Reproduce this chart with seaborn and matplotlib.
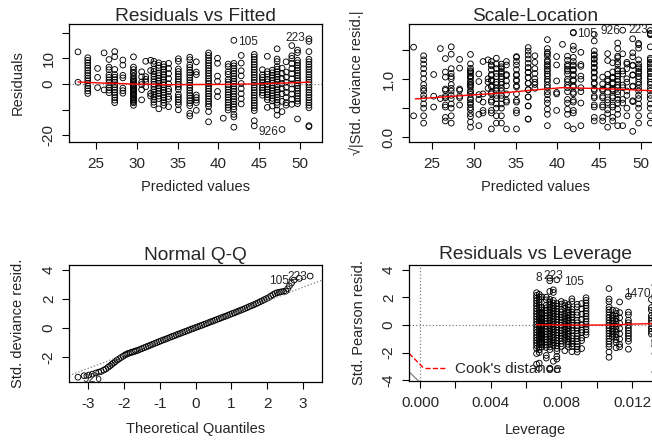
import numpy as np
import pandas as pd
import matplotlib
matplotlib.use("Agg")
import matplotlib.pyplot as plt
from matplotlib.lines import Line2D
import seaborn as sns

sns.set_theme(style="white")
plt.rcParams["font.family"] = ["Liberation Sans", "DejaVu Sans"]

# --- data -------------------------------------------------------------------
# fitted value of each vertical stripe of points, and the leverage of that cell
fitted = [22.8, 24.0, 25.2, 26.0, 26.6, 27.3, 28.3, 29.6, 30.6, 31.1, 31.7, 32.1,
          32.7, 33.3, 33.9, 35.1, 36.5, 37.3, 38.8, 39.9, 40.6, 41.2, 41.9, 42.8,
          44.4, 45.4, 46.0, 46.6, 47.2, 47.8, 48.3, 49.0, 49.7, 51.1]
leverage = [0.0136, 0.0094, 0.0135, 0.0136, 0.0131, 0.0134, 0.0135, 0.0069, 0.0134,
            0.0135, 0.0136, 0.0080, 0.0082, 0.0084, 0.00915, 0.0086, 0.00715, 0.0134,
            0.0066, 0.0135, 0.0136, 0.0089, 0.00775, 0.0133, 0.00675, 0.0109, 0.0118,
            0.0111, 0.0107, 0.0133, 0.0113, 0.0133, 0.00755, 0.00735]

# residuals in each stripe
r01 = [12.6, 0.7]
r02 = [10.3, 9.3, 8.3, 7.3, 6.3, 5.3, 4.3, 3.3, 2.3, 1.3, 0.3, -0.7, -1.7, -2.7, -3.7]
r03 = [6.1, 2.6, -1.4]
r04 = [12.2, -2.3]
r05 = [9.6, 6.6, 5.6, 3.6, 2.6, 1.6, 0.6, -0.4, -1.4, -2.4, -3.4]
r06 = [12.7, 10.7, 5.7, 3.7, 2.7, 1.7, 0.7, -0.3, -1.3, -2.3, -3.3, -4.3, -5.3, -6.3,
       -7.3]
r07 = [9.4, 7.4, 3.4, 2.4, -1.6, -2.6, -3.6]
r08 = [10.65, 6.65, 5.65, 4.65, 4.15, 3.15, 2.15, 1.65, 1.15, 0.65, 0.15, -0.35, -0.85,
       -1.35, -1.85, -2.35, -2.85, -3.35, -3.85, -4.35, -4.85, -5.35, -5.85, -6.35,
       -6.85, -7.35, -8.35]
r09 = [4.8, 2.8, 0.8, -0.2, -2.2, -6.2]
r10 = [8.9, 2.9, 1.9, 0.9, -1.1]
r11 = [9.3, 5.3, -3.7, -4.7]
r12 = [8.9, 7.9, 5.9, 4.9, 3.9, 2.9, 1.9, 0.9, -0.1, -1.1, -2.1, -3.1, -4.1, -5.1, -6.1,
       -7.1, -8.1]
r13 = [8.3, 7.3, 6.3, 4.3, 3.3, 2.3, 1.3, 0.3, -0.7, -1.7, -2.7, -3.7, -4.7, -5.7, -9.7]
r14 = [7.7, 6.7, 5.7, 4.7, 3.7, 2.7, 1.7, 0.7, -0.3, -1.3, -2.3, -3.3, -4.3, -5.3, -6.3,
       -7.3, -8.3]
r15 = [8.1, 6.1, 4.1, 2.1, 0.1, -1.9, -2.9, -4.9, -5.9, -8.9]
r16 = [9.9, 8.9, 5.9, 4.9, 3.9, 2.9, 1.9, 0.9, -0.1, -1.1, -2.1, -4.1, -5.1, -6.1, -7.1,
       -8.1, -10.1]
r17 = [10.5, 9.5, 7.5, 6.5, 5.5, 4.5, 3.5, 2.5, 1.5, 0.5, -0.5, -1.5, -2.5, -3.5, -4.5,
       -5.5, -6.5, -7.5, -8.5, -11.5, -12.5]
r18 = [8.7, 4.7, 3.7, -4.3, -5.3, -6.3, -7.3, -10.3]
r19 = [12.2, 11.2, 10.2, 9.2, 8.2, 7.2, 6.2, 5.2, 4.2, 3.2, 2.2, 1.2, 0.2, -0.8, -1.8,
       -2.8, -3.8, -4.8, -5.8, -6.8, -7.8, -8.8, -10.8, -14.8]
r20 = [10.1, 8.1, 3.1, 1.1, -2.9, -4.9]
r21 = [-13.4]
r22 = [7.8, 6.8, 4.8, 3.8, 1.8, 0.8, -0.2, -1.2, -2.2, -3.2, -4.2, -5.2, -6.2, -7.2,
       -8.2, -9.2, -10.2]
r23 = [17.1, 8.1, 7.1, 6.1, 5.1, 4.1, 3.1, 2.1, 1.1, 0.1, -0.9, -1.9, -2.9, -3.9, -4.9,
       -5.9, -6.9, -7.9, -8.9, -9.9, -11.9, -12.9, -16.9]
r24 = [11.2, 8.2, 5.2, 3.2, 0.2, -1.8, -3.8, -5.8, -7.8]
r25 = [11.6, 10.6, 9.6, 8.6, 7.6, 6.6, 5.6, 4.6, 3.6, 2.6, 1.6, 0.6, -0.4, -1.4, -2.4,
       -3.4, -4.4, -5.4, -6.4, -7.4, -8.4, -9.4, -10.4, -14.4, -16.4]
r26 = [5.6, 3.6, 2.6, 1.6, 0.6, -0.4, -1.4, -2.4, -3.4, -4.4]
r27 = [10.85, 4.85, 3.85, 1.85, 0.85, -0.15, -1.15, -2.15, -3.15, -4.15, -5.15, -6.15,
       -9.15]
r28 = [5.4, 4.4, 3.4, 2.4, 1.4, 0.4, -0.6, -1.6, -2.6, -3.6, -4.6, -5.6, -6.6, -8.6]
r29 = [13.8, 9.8, 8.8, 6.8, 5.8, 4.8, 3.8, 2.8, 1.8, 0.8, -0.2, -1.2, -2.2, -3.2, -4.2,
       -5.2, -6.2, -7.2, -8.2, -10.2, -12.2]
r30 = [6.2, 4.2, 2.2, 0.2, -1.8, -3.8, -6.8, -10.8, -17.8]
r31 = [8.7, 4.7, 2.7, 0.7, -1.3, -3.3, -5.3, -7.3, -8.3]
r32 = [15.05, 11.05, 10.05, 8.05, 6.05, 4.05, 2.05, 0.05, -1.95, -3.95, -5.95, -7.95]
r33 = [13.3, 12.3, 9.3, 8.3, 7.3, 6.3, 5.3, 4.3, 3.3, 2.3, 1.3, 0.3, -0.7, -1.7, -2.7,
       -3.7, -4.7, -5.7, -6.7, -7.7, -13.7]
r34 = [17.7, 16.7, 12.7, 9.7, 8.7, 7.7, 6.7, 5.7, 4.7, 3.7, 2.7, 1.7, 0.7, -0.3, -1.3,
       -2.3, -3.3, -4.3, -5.3, -6.3, -7.3, -8.3, -9.3, -16.3, -16.7]

sigma = 5.2  # residual scale used by the standardised panels

# lowess smooths (red lines)
smooth1_x = [22.8, 25.7, 29.8, 33.9, 37.1, 41.1, 45.2, 49.3, 51.2]
smooth1_y = [0.8, 0.4, 0.0, -0.25, -0.2, -0.15, 0.1, 0.5, 0.75]
smooth2_x = [23.0, 26.0, 30.0, 34.0, 36.8, 40.6, 44.6, 48.6, 51.4, 52.7]
smooth2_y = [0.66, 0.69, 0.73, 0.77, 0.81, 0.855, 0.84, 0.82, 0.80, 0.79]
smooth4_x = [0.0066, 0.0080, 0.0095, 0.0107, 0.0113, 0.0118, 0.0125, 0.0131, 0.0137]
smooth4_y = [0.02, 0.0, -0.01, 0.0, 0.02, 0.06, 0.08, 0.10, 0.12]

# normal Q-Q points
qq_theoretical = [
    -3.28, -3.11, -2.98, -2.88, -2.78, -2.70, -2.63, -2.56, -2.50, -2.44, -2.39, -2.34,
    -2.29, -2.24, -2.19, -2.14, -2.08, -2.02, -1.97, -1.92, -1.87, -1.82, -1.77, -1.72,
    -1.67, -1.62, -1.56, -1.50, -1.44, -1.38, -1.32, -1.26, -1.20, -1.14, -1.08, -1.02,
    -0.96, -0.90, -0.84, -0.78, -0.72, -0.66, -0.60, -0.54, -0.48, -0.42, -0.36, -0.30,
    -0.24, -0.18, -0.12, -0.06, 0.00, 0.06, 0.12, 0.18, 0.24, 0.30, 0.36, 0.42, 0.48,
    0.54, 0.60, 0.66, 0.72, 0.78, 0.84, 0.90, 0.96, 1.02, 1.08, 1.14, 1.20, 1.26, 1.32,
    1.38, 1.44, 1.50, 1.56, 1.62, 1.68, 1.74, 1.80, 1.86, 1.92, 1.98, 2.04, 2.10, 2.16,
    2.22, 2.28, 2.34, 2.40, 2.46, 2.52, 2.57, 2.62, 2.68, 2.75, 2.90, 3.20]
qq_sample = [
    -3.37, -3.27, -3.22, -3.16, -3.08, -3.02, -2.97, -2.88, -2.80, -2.69, -2.60, -2.50,
    -2.40, -2.30, -2.20, -2.12, -2.02, -1.93, -1.85, -1.78, -1.73, -1.69, -1.65, -1.61,
    -1.57, -1.53, -1.47, -1.41, -1.35, -1.29, -1.23, -1.17, -1.11, -1.05, -0.99, -0.93,
    -0.87, -0.81, -0.76, -0.70, -0.64, -0.58, -0.53, -0.47, -0.41, -0.36, -0.30, -0.24,
    -0.19, -0.13, -0.07, -0.02, 0.04, 0.09, 0.15, 0.20, 0.26, 0.31, 0.37, 0.43, 0.48,
    0.54, 0.60, 0.65, 0.71, 0.77, 0.82, 0.88, 0.94, 1.00, 1.05, 1.11, 1.17, 1.23, 1.29,
    1.35, 1.41, 1.48, 1.54, 1.60, 1.67, 1.74, 1.81, 1.88, 1.96, 2.03, 2.10, 2.20, 2.30,
    2.38, 2.44, 2.47, 2.50, 2.52, 2.55, 2.70, 2.90, 3.10, 3.30, 3.42, 3.58]
qq_line_intercept = 0.02
qq_line_slope = 0.93

# Cook's distance contour pieces visible at the left of the leverage panel
cooks_x = [-0.00062, 0.00021]
cooks_y = [-2.06, -3.13]
contour_x = [-0.00062, -0.00004]
contour_y = [-3.40, -4.12]

# --- build the point table ----------------------------------------------------
cols = [r01, r02, r03, r04, r05, r06, r07, r08, r09, r10, r11, r12, r13, r14, r15, r16,
        r17, r18, r19, r20, r21, r22, r23, r24, r25, r26, r27, r28, r29, r30, r31, r32,
        r33, r34]
rows = []
for f, h, col in zip(fitted, leverage, cols):
    for r in col:
        rows.append((f, h, r))
df = pd.DataFrame(rows, columns=["fitted", "leverage", "resid"])
df["sqrt_std"] = np.sqrt(df["resid"].abs() / sigma)
df["std_pearson"] = df["resid"] / sigma
qq = pd.DataFrame({"theo": qq_theoretical, "sample": qq_sample})

# --- figure ---------------------------------------------------------------------
W, H = 652, 440
fig = plt.figure(figsize=(W / 100, H / 100), dpi=100)
ax1 = fig.add_axes([69 / W, 1 - 142 / H, 253 / W, 118 / H])
ax2 = fig.add_axes([409 / W, 1 - 142 / H, 253 / W, 118 / H])
ax3 = fig.add_axes([69 / W, 1 - 382 / H, 253 / W, 117 / H])
ax4 = fig.add_axes([409 / W, 1 - 381 / H, 253 / W, 116 / H])

pts = dict(marker="o", s=17, facecolors="none", edgecolor="black", linewidth=0.65,
           legend=False)


def style(ax, title, tpad, xlabel, ylabel, xlim, ylim, xticks, xlabels, yticks, ylabels,
          ylab_x, xlab_y):
    ax.set_xlim(*xlim)
    ax.set_ylim(*ylim)
    ax.set_title(title, fontsize=13.8, pad=tpad)
    ax.set_xlabel(xlabel, fontsize=10.5)
    ax.set_ylabel(ylabel, fontsize=10.5)
    ax.xaxis.set_label_coords(0.5, xlab_y)
    ax.yaxis.set_label_coords(ylab_x, 0.5)
    ax.set_xticks(xticks)
    ax.set_xticklabels(xlabels)
    ax.set_yticks(yticks)
    ax.set_yticklabels(ylabels, rotation=90, va="center")
    ax.tick_params(axis="both", direction="out", length=5, width=0.8, color="black",
                   labelsize=11, bottom=True, left=True)
    ax.tick_params(axis="x", pad=5.5)
    ax.tick_params(axis="y", pad=4.5)
    for sp in ax.spines.values():
        sp.set_visible(True)
        sp.set_color("black")
        sp.set_linewidth(0.9)


# Residuals vs Fitted
ax1.axhline(0, color="gray", ls=":", lw=0.9)
sns.scatterplot(data=df, x="fitted", y="resid", ax=ax1, **pts)
sns.lineplot(x=smooth1_x, y=smooth1_y, ax=ax1, color="red", lw=1)
ax1.text(42.4, 16.6, "105", fontsize=8.6, va="center", ha="left")
ax1.text(50.7, 18.0, "223", fontsize=8.6, va="center", ha="right")
ax1.text(47.4, -18.6, "926", fontsize=8.6, va="center", ha="right")
style(ax1, "Residuals vs Fitted", 2.4, "Predicted values", "Residuals",
      (21.7, 52.7), (-22.7, 23.5), [25, 30, 35, 40, 45, 50],
      ["25", "30", "35", "40", "45", "50"], [-20, -10, 0, 10, 20],
      ["-20", "", "0", "10", ""], -0.174, -0.32)

# Scale-Location
sns.scatterplot(data=df, x="fitted", y="sqrt_std", ax=ax2, **pts)
sns.lineplot(x=smooth2_x, y=smooth2_y, ax=ax2, color="red", lw=1)
ax2.text(42.3, 1.79, "105", fontsize=8.6, va="center", ha="left")
ax2.text(47.5, 1.83, "926", fontsize=8.6, va="center", ha="right")
ax2.text(50.9, 1.86, "223", fontsize=8.6, va="center", ha="right")
style(ax2, "Scale-Location", 2.4, "Predicted values", "√|Std. deviance resid.|",
      (22.25, 52.5), (-0.087, 1.958), [25, 30, 35, 40, 45, 50],
      ["25", "30", "35", "40", "45", "50"], [0.0, 0.5, 1.0, 1.5],
      ["0.0", "", "1.0", ""], -0.178, -0.32)

# Normal Q-Q
ax3.axline((0, qq_line_intercept), slope=qq_line_slope, color="gray", ls=":", lw=0.9)
sns.scatterplot(data=qq, x="theo", y="sample", ax=ax3, **pts)
ax3.text(3.12, 3.52, "223", fontsize=8.6, va="center", ha="right")
ax3.text(2.62, 3.22, "105", fontsize=8.6, va="center", ha="right")
ax3.text(-3.15, -3.5, "926", fontsize=8.6, va="center", ha="left")
style(ax3, "Normal Q-Q", 3.6, "Theoretical Quantiles", "Std. deviance resid.",
      (-3.53, 3.53), (-3.70, 4.34), [-3, -2, -1, 0, 1, 2, 3],
      ["-3", "-2", "-1", "0", "1", "2", "3"], [-2, 0, 2, 4],
      ["-2", "0", "2", "4"], -0.174, -0.34)

# Residuals vs Leverage
ax4.axhline(0, color="gray", ls=":", lw=0.9)
ax4.axvline(0, color="gray", ls=":", lw=0.9)
sns.scatterplot(data=df, x="leverage", y="std_pearson", ax=ax4, **pts)
sns.lineplot(x=smooth4_x, y=smooth4_y, ax=ax4, color="red", lw=1)
sns.lineplot(x=cooks_x, y=cooks_y, ax=ax4, color="red", lw=1, ls="--")
sns.lineplot(x=contour_x, y=contour_y, ax=ax4, color="gray", lw=0.9)
ax4.text(0.00673, 3.42, "8", fontsize=8.6, va="center", ha="center")
ax4.text(0.0070, 3.55, "223", fontsize=8.6, va="center", ha="left")
ax4.text(0.00815, 3.12, "105", fontsize=8.6, va="center", ha="left")
ax4.text(0.01155, 2.28, "1470", fontsize=8.6, va="center", ha="left")
ax4.legend(handles=[Line2D([], [], color="red", ls="--", lw=1)],
           labels=["Cook's distance"], loc="center left",
           bbox_to_anchor=(0.063, 0.103), frameon=False, fontsize=11,
           handlelength=1.4, handletextpad=0.6, borderpad=0, borderaxespad=0)
style(ax4, "Residuals vs Leverage", 4.0, "Leverage", "Std. Pearson resid.",
      (-0.00062, 0.0137), (-4.07, 4.36),
      [0.0, 0.002, 0.004, 0.006, 0.008, 0.010, 0.012],
      ["0.000", "", "0.004", "", "0.008", "", "0.012"], [-4, -2, 0, 2, 4],
      ["-4", "-2", "0", "2", "4"], -0.17, -0.36)

fig.savefig("out.png", dpi=100)
